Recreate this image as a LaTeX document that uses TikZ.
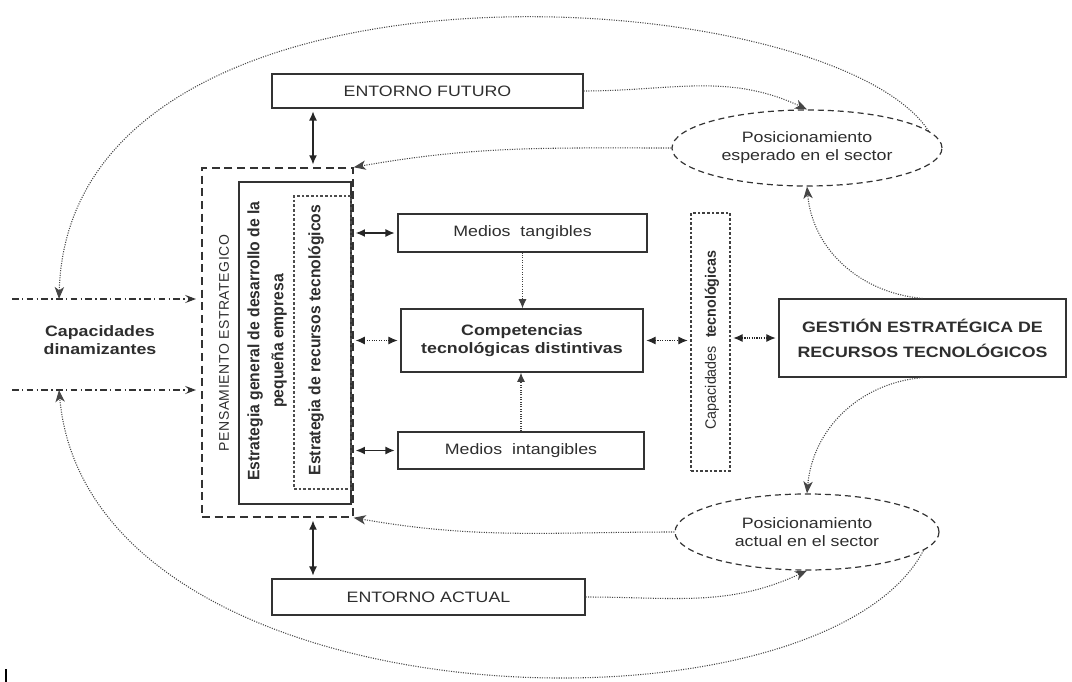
\documentclass[tikz,border=0pt]{standalone}
\usepackage{fontspec}
\setmainfont{Liberation Sans}
\newfontfamily\widefont[FakeStretch=1.18]{Liberation Sans}
\newfontfamily\narrowfont[FakeStretch=0.95]{Liberation Sans}
\newfontfamily\spacedfont[LetterSpace=4]{Liberation Sans}
\newcommand{\hfont}{\widefont\fontsize{11.3pt}{13.6pt}\selectfont}
\newcommand{\vfont}{\narrowfont\bfseries\fontsize{12.4pt}{18pt}\selectfont}
\usetikzlibrary{arrows.meta}
\usetikzlibrary{shapes.geometric}
\usetikzlibrary{calc}
\usetikzlibrary{positioning}
\def\px{0.75pt}

\begin{document}
\begin{tikzpicture}[x=0.75pt, y=-0.75pt,
    every node/.style={inner sep=0pt, text=black!82},
    box/.style={draw=black!80, line width=0.9pt, align=center, font=\hfont},
    oval/.style={ellipse, draw=black!80, dash pattern=on 4.5pt off 3pt, line width=0.9pt, align=center, font=\hfont},
    vtext/.style={rotate=90, align=center, font=\vfont},
    twoway/.style={{Latex[length=7pt,width=6pt]}-{Latex[length=7pt,width=6pt]}, line width=1.1pt, black!85},
    dotway/.style={twoway, line width=0.8pt, densely dotted},
    dotarrow/.style={-{Latex[length=7pt,width=6pt]}, line width=0.8pt, densely dotted, black!75},
    feed/.style={-{Stealth[length=9pt,width=7pt,inset=2.5pt]}, gray!55!black, densely dotted, line width=0.8pt},
    input/.style={-{Stealth[length=8pt,width=6pt,inset=3pt]}, black!80, dash pattern=on 5pt off 2.5pt on 1pt off 2.5pt, line width=0.8pt}]
        \useasboundingbox (0,0) rectangle (1072,682);

        % Draw the environment boxes
        \node[box, minimum width=311*\px, minimum height=34*\px] (futuro) at (427.5,91) {ENTORNO FUTURO};
        \node[box, minimum width=313*\px, minimum height=36*\px] (actual) at (428.5,597) {ENTORNO ACTUAL};

        % Draw the strategic thinking block
        \node[draw=black!80, line width=1.1pt, dash pattern=on 6pt off 3.5pt, minimum width=151*\px, minimum height=349*\px] (pens) at (277.5,342.5) {};
        \node[draw=black!80, line width=0.9pt, minimum width=112*\px, minimum height=322*\px] (gral) at (295,343) {};
        \node[draw=black!70, line width=0.8pt, dash pattern=on 2pt off 1.5pt, minimum width=57*\px, minimum height=293*\px] (recur) at (322.5,342.5) {};
        \node[rotate=90, font=\spacedfont\fontsize{10.5pt}{12pt}\selectfont] (pensT) at (224,343) {PENSAMIENTO ESTRATEGICO};
        \node[vtext] (gralT) at (267,341) {Estrategia general de desarrollo de la\\pequeña empresa};
        \node[vtext] (recurT) at (316,340) {Estrategia de recursos tecnológicos};

        % Draw the means and competences
        \node[box, minimum width=249*\px, minimum height=38*\px] (tang) at (522.5,233) {Medios\ \ tangibles};
        \node[box, minimum width=242*\px, minimum height=63*\px, font=\hfont\bfseries] (comp) at (522,340.5) {Competencias\\tecnológicas distintivas};
        \node[box, minimum width=246*\px, minimum height=37*\px] (intang) at (521,450.5) {Medios\ \ intangibles};

        % Draw the technological capacities and the management box
        \node[draw=black!75, line width=0.9pt, dash pattern=on 2pt off 1.5pt, minimum width=39*\px, minimum height=258*\px] (captec) at (710.5,342) {};
        \node[rotate=90, font=\narrowfont\fontsize{11.3pt}{13pt}\selectfont] (captecT) at (712,340) {Capacidades\ \ \textbf{tecnológicas}};
        \node[box, minimum width=287*\px, minimum height=78*\px, font=\hfont\bfseries] (gestion) at (922.5,338) {GESTIÓN ESTRATÉGICA DE\\[5pt]RECURSOS TECNOLÓGICOS};

        % Draw the positioning ellipses
        \node[oval, minimum width=270*\px, minimum height=76*\px] (esper) at (807,148) {Posicionamiento\\esperado en el sector};
        \node[oval, minimum width=264*\px, minimum height=76*\px] (posact) at (807,532) {Posicionamiento\\actual en el sector};

        % Draw the dynamising capacities
        \node[font=\hfont\bfseries, align=center] (capdin) at (100,340) {Capacidades\\dinamizantes};
        \coordinate (inTop) at (12,299);
        \coordinate (inBot) at (12,390);
        \coordinate (arcTop) at (59,299);
        \coordinate (arcBot) at (59,390);
        \draw[input, shorten >=4pt] (inTop) -- (pens.west |- inTop);
        \draw[input, shorten >=4pt] (inBot) -- (pens.west |- inBot);

        % Connect the blocks
        \coordinate (vx) at (313,0);
        \draw[twoway, shorten <=2pt, shorten >=2pt] (futuro.south -| vx) -- (pens.north -| vx);
        \draw[twoway, shorten <=2pt, shorten >=2pt] (pens.south -| vx) -- (actual.north -| vx);
        \draw[twoway, shorten <=3pt, shorten >=2pt] (gral.east |- tang.west) -- (tang.west);
        \draw[dotway, shorten <=3pt, shorten >=2pt] (gral.east |- comp.west) -- (comp.west);
        \draw[twoway, shorten <=3pt, shorten >=2pt] (gral.east |- intang.west) -- (intang.west);
        \draw[dotway, shorten <=2pt, shorten >=2pt] (comp.east) -- (comp.east -| captec.west);
        \draw[dotway, shorten <=2pt, shorten >=2pt] (captec.east |- gestion.west) -- (gestion.west);
        \draw[dotarrow] (tang.south) -- (tang.south |- comp.north);
        \draw[dotarrow] (intang.north) -- (intang.north |- comp.south);

        % Feedback curves
        \draw[feed] (futuro.east) to[out=0, in=155] (esper.north);
        \draw[feed] (esper.west) to[out=180, in=10] (pens.north east);
        \draw[feed] (gestion.north) to[out=175, in=-85] (esper.south);
        \draw[feed] (gestion.south) to[out=185, in=85] (posact.north);
        \draw[feed] (actual.east) to[out=0, in=205] (posact.south);
        \draw[feed] (posact.west) to[out=180, in=-10] (pens.south east);
        \draw[feed] (esper.8) .. controls (830,-20) and (70,-70) .. (arcTop);
        \draw[feed] (posact.-9) .. controls (820,748) and (90,730) .. (arcBot);

        % Small mark in the corner
        \draw[line width=1.4pt] (6,669) -- (6,682);
      \end{tikzpicture}
\end{document}
